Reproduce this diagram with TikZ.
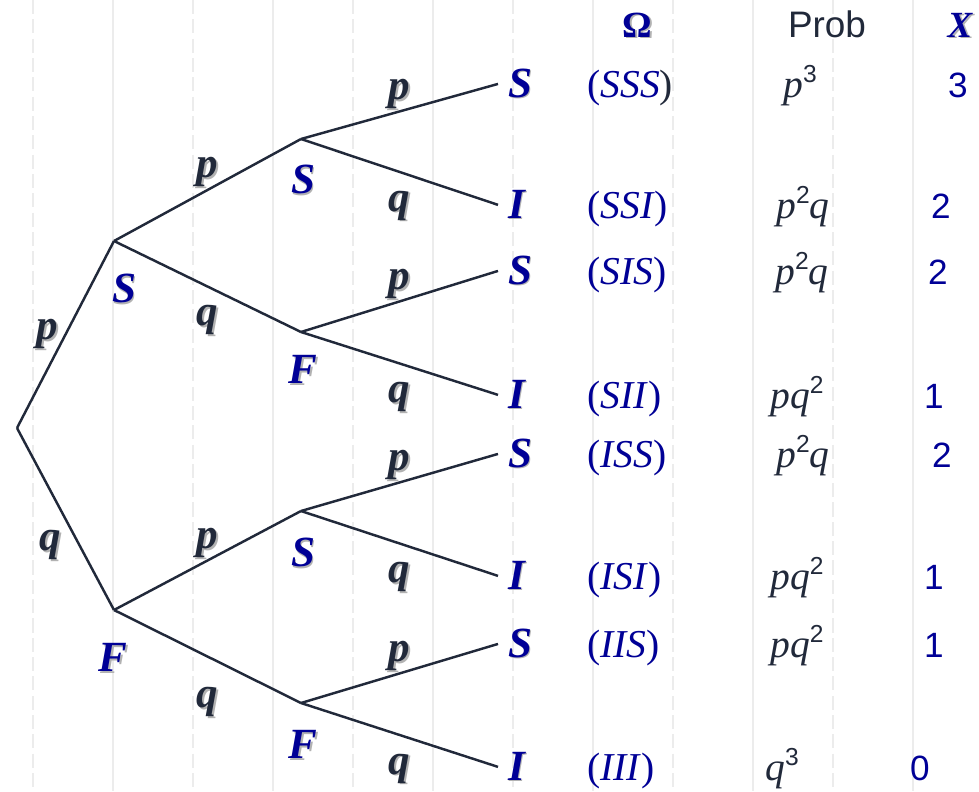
\documentclass[tikz,border=0pt]{standalone}
\usepackage{fontspec}
\setmainfont{Liberation Serif}
\setsansfont{Liberation Sans}

\definecolor{omblue}{RGB}{0,0,150}
\definecolor{ink}{RGB}{33,41,58}
\definecolor{gridgray}{RGB}{236,236,236}

\newcommand\treefont{\fontsize{24.5}{28}\selectfont\bfseries\itshape}
\newcommand\rowfont{\fontsize{22.5}{26}\selectfont}
\newcommand\numfont{\fontsize{20}{24}\selectfont\sffamily}
\newcommand\sups[1]{\raisebox{8pt}{\fontsize{14}{14}\selectfont\sffamily\upshape #1}}
% soft drop shadow behind the bold letters
\newcommand\shd[1]{\makebox[0pt][l]{\kern1.1pt\raisebox{-1.1pt}{\color{black!30}#1}}#1}

\tikzset{
  branch/.style={draw=ink, line width=1.4pt},
  state/.style={font=\treefont, text=omblue, inner sep=0pt},
  leaf/.style={state, anchor=base west, inner xsep=5.5pt},
  wt/.style={font=\treefont, text=ink, inner sep=0pt},
  gridline/.style={draw=gridgray, line width=0.6pt},
  outcome/.style={font=\rowfont, text=omblue, anchor=base west, inner sep=0pt},
  probcell/.style={font=\rowfont\itshape, text=ink, anchor=base, inner sep=0pt},
  xcell/.style={font=\numfont, text=omblue, anchor=base, inner sep=0pt},
  head/.style={anchor=base, inner sep=0pt}
}

\begin{document}
\begin{tikzpicture}[x=0.02cm, y=-0.02cm]
\useasboundingbox (0,0) rectangle (979,791);

% grid
\foreach \gx in {33,193,...,833}
  \draw[gridline, dash pattern=on 8pt off 3pt] (\gx,0) -- (\gx,791);
\foreach \gx in {113,273,...,913}
  \draw[gridline] (\gx,0) -- (\gx,791);

% branch points
\coordinate (r) at (17,428);
\coordinate (s) at (114,241);
\coordinate (f) at (114,610);
\coordinate (ss) at (301,139);
\coordinate (sf) at (301,332);
\coordinate (fs) at (301,511);
\coordinate (ff) at (301,703);

% states
\node[state] (sL) at (124,289) {\shd{S}};
\node[state] (fL) at (113,658) {\shd{F}};
\node[state] (ssL) at (303,180) {\shd{S}};
\node[state] (sfL) at (303,370) {\shd{F}};
\node[state] (fsL) at (303,553) {\shd{S}};
\node[state] (ffL) at (303,745) {\shd{F}};

% leaves
\node[leaf] (sss) at (498,97) {\shd{S}};
\node[leaf] (ssi) at (498,218) {\shd{I}};
\node[leaf] (sis) at (498,284) {\shd{S}};
\node[leaf] (sii) at (498,408) {\shd{I}};
\node[leaf] (iss) at (498,467) {\shd{S}};
\node[leaf] (isi) at (498,589) {\shd{I}};
\node[leaf] (iis) at (498,657) {\shd{S}};
\node[leaf] (iii) at (498,780) {\shd{I}};

% branches
\draw[branch] (r) -- node[wt, left=3.5pt] {\shd{p}} (s);
\draw[branch] (r) -- node[wt, pos=0.65, left=10pt] {\shd{q}} (f);
\draw[branch] (s) -- node[wt, above] {\shd{p}} (ss);
\draw[branch] (s) -- node[wt, below=10pt] {\shd{q}} (sf);
\draw[branch] (f) -- node[wt, above] {\shd{p}} (fs);
\draw[branch] (f) -- node[wt, below=17pt] {\shd{q}} (ff);
\draw[branch] (ss) -- node[wt, above] {\shd{p}} (sss.west);
\draw[branch] (ss) -- node[wt, below=10pt] {\shd{q}} (ssi.west);
\draw[branch] (sf) -- node[wt, above] {\shd{p}} (sis.west);
\draw[branch] (sf) -- node[wt, below=10pt] {\shd{q}} (sii.west);
\draw[branch] (fs) -- node[wt, above] {\shd{p}} (iss.west);
\draw[branch] (fs) -- node[wt, below=10pt] {\shd{q}} (isi.west);
\draw[branch] (ff) -- node[wt, above] {\shd{p}} (iis.west);
\draw[branch] (ff) -- node[wt, below=10pt] {\shd{q}} (iii.west);

% table
\node[head, font=\fontsize{21}{24}\selectfont\bfseries, text=omblue] (hom) at (637,37) {\shd{Ω}};
\node[head, font=\fontsize{21}{24}\selectfont\sffamily, text=ink] (hprob) at (827,37) {Prob};
\node[head, font=\fontsize{21}{24}\selectfont\bfseries\itshape, text=omblue] (hx) at (960,37) {\shd{X}};

\foreach \y/\om/\pr/\px/\xv/\xx [count=\i] in {
    97/{(\textit{SSS}\textcolor{ink}{)}}/{p\sups{3}}/800/3/958,
    218/{(\textit{SSI})}/{p\sups{2}q}/803/2/941,
    284/{(\textit{SIS})}/{p\sups{2}q}/802/2/938,
    408/{(\textit{SII})}/{pq\sups{2}}/797/1/934,
    467/{(\textit{ISS})}/{p\sups{2}q}/803/2/942,
    589/{(\textit{ISI})}/{pq\sups{2}}/797/1/934,
    657/{(\textit{IIS})}/{pq\sups{2}}/797/1/934,
    780/{(\textit{III})}/{q\sups{3}}/782/0/920}
{
  \node[outcome] (om\i) at (587,\y) {\om};
  \node[probcell] (pr\i) at (\px,\y) {\pr};
  \node[xcell] (xv\i) at (\xx,\y) {\xv};
}
\end{tikzpicture}
\end{document}
